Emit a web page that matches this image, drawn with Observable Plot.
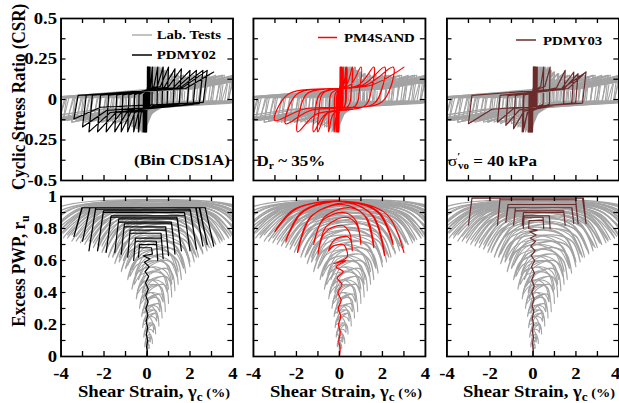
<!DOCTYPE html>
<html><head><meta charset="utf-8">
<script src="https://cdn.jsdelivr.net/npm/d3@7"></script>
<script src="https://cdn.jsdelivr.net/npm/@observablehq/plot@0.6"></script>
<style>
html,body{margin:0;padding:0;background:#fff;}
#wrap{position:relative;width:563px;height:403px;transform:scale(1.0995,1);transform-origin:0 0;overflow:visible;}
</style></head><body><div id="wrap"></div>
<script>
// ---------- data ----------
// Lab test A (gray): half-cycle peak strains (%), CSR at peaks, ru at peaks, ru plateau of each half-cycle
const labStrain=[0.25,-0.04,0.4,-0.06,0.55,-0.08,0.7,-0.1,0.85,-0.13,1.0,-0.17,1.15,-0.22,1.3,-0.3,1.45,-0.4,1.6,-0.55,1.8,-0.7,2.0,-0.9,2.2,-1.1,2.4,-1.3,2.6,-1.5,2.8,-1.7,3.0,-1.9,3.2,-2.1,3.4,-2.3,3.6,-2.5,3.8,-2.7,4.0,-2.9,4.2,-3.1,4.4,-3.3,4.6,-3.5,4.8,-3.7,5.0,-3.9,5.2,-4.1,5.4,-4.3,5.6,-4.5];
const labCsr=[0.2,-0.2,0.2,-0.2,0.2,-0.2,0.2,-0.2,0.18,-0.2,0.17,-0.19,0.16,-0.18,0.15,-0.17,0.15,-0.16,0.15,-0.15,0.14,-0.15,0.15,-0.14,0.14,-0.14,0.15,-0.13,0.14,-0.14,0.15,-0.13,0.14,-0.13,0.15,-0.14,0.14,-0.13,0.15,-0.13,0.14,-0.14,0.15,-0.13,0.14,-0.13,0.15,-0.13,0.14,-0.14,0.15,-0.13,0.14,-0.13,0.15,-0.13,0.14,-0.13,0.15,-0.13];
const labRu=[0.08,0.1,0.14,0.16,0.19,0.22,0.24,0.27,0.28,0.31,0.33,0.36,0.37,0.4,0.41,0.44,0.45,0.48,0.48,0.51,0.52,0.54,0.56,0.57,0.59,0.6,0.62,0.62,0.64,0.64,0.66,0.66,0.68,0.67,0.7,0.69,0.71,0.7,0.73,0.71,0.74,0.72,0.75,0.73,0.76,0.74,0.77,0.75,0.78,0.76,0.79,0.76,0.8,0.77,0.8,0.78,0.81,0.78,0.82,0.79];
const labRuTop=[0.12,0.12,0.2,0.2,0.27,0.27,0.33,0.33,0.39,0.39,0.45,0.45,0.5,0.5,0.55,0.55,0.6,0.6,0.64,0.64,0.68,0.68,0.72,0.72,0.76,0.76,0.8,0.8,0.83,0.83,0.86,0.86,0.88,0.88,0.9,0.9,0.91,0.91,0.92,0.92,0.93,0.93,0.94,0.94,0.95,0.95,0.96,0.96,0.96,0.96,0.97,0.97,0.97,0.97,0.98,0.98,0.98,0.98,0.98,0.98];
// Lab test B (gray)
const labBStrain=[-0.1,0.15,-0.15,0.3,-0.2,0.45,-0.25,0.6,-0.35,0.75,-0.5,0.95,-0.7,1.15,-0.9,1.4,-1.2,1.7,-1.5,2.0,-1.8,2.3,-2.1,2.6,-2.5,2.9,-2.9,3.2,-3.3,3.5,-3.7,3.8,-4.1,4.1,-4.5,4.4,-4.9,4.7,-5.3,5.0,-5.7,5.3];
const labBCsr=[-0.2,0.2,-0.2,0.2,-0.2,0.2,-0.2,0.2,-0.2,0.2,-0.18,0.17,-0.17,0.16,-0.16,0.16,-0.15,0.15,-0.15,0.14,-0.14,0.15,-0.14,0.14,-0.13,0.15,-0.14,0.14,-0.13,0.15,-0.12,0.14,-0.13,0.15,-0.12,0.14,-0.13,0.15,-0.12,0.14,-0.13,0.15];
const labBRu=[0.06,0.09,0.12,0.15,0.18,0.22,0.25,0.28,0.3,0.34,0.36,0.4,0.42,0.45,0.48,0.5,0.53,0.55,0.58,0.59,0.62,0.62,0.65,0.65,0.68,0.68,0.7,0.7,0.72,0.72,0.74,0.74,0.75,0.75,0.77,0.76,0.78,0.77,0.79,0.78,0.8,0.8];
const labBRuTop=[0.1,0.1,0.17,0.17,0.25,0.25,0.32,0.32,0.4,0.4,0.48,0.48,0.56,0.56,0.63,0.63,0.7,0.7,0.76,0.76,0.81,0.81,0.85,0.85,0.88,0.88,0.9,0.9,0.92,0.92,0.94,0.94,0.95,0.95,0.96,0.96,0.97,0.97,0.97,0.97,0.98,0.98];
// Lab test C (gray)
const labCStrain=[0.1,-0.05,0.2,-0.1,0.35,-0.15,0.5,-0.2,0.65,-0.3,0.8,-0.45,1.0,-0.6,1.2,-0.8,1.45,-1.0,1.7,-1.3,1.95,-1.6,2.2,-1.95,2.5,-2.3,2.8,-2.7,3.1,-3.1,3.5,-3.5,3.9,-3.9,4.3,-4.3,4.7,-4.7,5.1,-5.1];
const labCCsr=[0.2,-0.2,0.2,-0.2,0.2,-0.2,0.2,-0.2,0.19,-0.19,0.18,-0.18,0.17,-0.17,0.16,-0.16,0.15,-0.15,0.15,-0.14,0.14,-0.14,0.15,-0.13,0.14,-0.14,0.15,-0.13,0.14,-0.13,0.15,-0.14,0.14,-0.13,0.15,-0.13,0.14,-0.13,0.15,-0.13];
const labCRu=[0.05,0.08,0.11,0.14,0.17,0.2,0.24,0.27,0.3,0.33,0.36,0.39,0.42,0.45,0.48,0.5,0.53,0.55,0.57,0.59,0.61,0.62,0.64,0.65,0.67,0.67,0.69,0.69,0.71,0.71,0.73,0.72,0.75,0.74,0.76,0.75,0.78,0.76,0.79,0.77];
const labCRuTop=[0.08,0.08,0.14,0.14,0.21,0.21,0.29,0.29,0.37,0.37,0.45,0.45,0.53,0.53,0.6,0.6,0.67,0.67,0.73,0.73,0.79,0.79,0.84,0.84,0.87,0.87,0.9,0.9,0.92,0.92,0.94,0.94,0.95,0.95,0.96,0.96,0.97,0.97,0.98,0.98];

// PDMY02 (black)
const p2Strain=[0.02,-0.02,0.03,-0.03,0.03,-0.04,0.04,-0.05,0.05,-0.06,0.06,-0.07,0.08,-0.09,0.1,-0.12,0.14,-0.18,0.25,-0.4,0.5,-0.62,0.75,-0.9,1.0,-1.2,1.3,-1.5,1.6,-1.9,2.0,-2.3,2.3,-2.7,2.6,-3.0,2.8,-3.4,3.1];
const p2Csr=[0.2,-0.2,0.2,-0.2,0.2,-0.2,0.2,-0.2,0.2,-0.2,0.2,-0.2,0.2,-0.2,0.2,-0.2,0.2,-0.2,0.2,-0.2,0.2,-0.2,0.2,-0.2,0.2,-0.2,0.19,-0.2,0.19,-0.2,0.18,-0.2,0.18,-0.2,0.18,-0.17,0.18,-0.12,0.17];
const p2Ru=[0.03,0.06,0.1,0.14,0.18,0.22,0.26,0.3,0.34,0.38,0.42,0.46,0.5,0.53,0.56,0.59,0.61,0.63,0.64,0.62,0.6,0.6,0.61,0.62,0.63,0.64,0.64,0.65,0.66,0.65,0.66,0.66,0.67,0.66,0.69,0.72,0.7,0.75,0.69];
const p2RuTop=[0,0,0,0,0,0,0,0,0,0,0,0,0,0,0,0,0,0,0,0.68,0.7,0.72,0.74,0.77,0.79,0.81,0.83,0.84,0.86,0.87,0.88,0.9,0.91,0.92,0.93,0.93,0.93,0.93,0.93];

// PM4SAND (red)
const p4Strain=[0.03,-0.03,0.04,-0.04,0.06,-0.05,0.08,-0.07,0.12,-0.1,0.18,-0.15,0.3,-0.25,0.35,-0.5,0.6,-1.0,1.0,-1.2,1.6,-1.95,2.1,-2.5,2.5,-3.0,3.0];
const p4Csr=[0.2,-0.2,0.2,-0.2,0.2,-0.2,0.2,-0.2,0.2,-0.2,0.2,-0.2,0.2,-0.2,0.2,-0.2,0.2,-0.2,0.2,-0.2,0.2,-0.2,0.2,-0.15,0.2,-0.13,0.2];
const p4Ru=[0.05,0.1,0.15,0.2,0.25,0.3,0.35,0.4,0.45,0.49,0.53,0.56,0.6,0.58,0.62,0.66,0.66,0.64,0.7,0.7,0.68,0.65,0.63,0.72,0.7,0.78,0.65];
const p4RuTop=[0,0,0,0,0,0,0,0,0,0,0,0,0,0,0,0.7,0.75,0.82,0.87,0.9,0.93,0.95,0.96,0.97,0.97,0.97,0.97];

// PDMY03 (brown)
const p3Strain=[0.02,-0.02,0.03,-0.03,0.03,-0.03,0.04,-0.04,0.05,-0.05,0.06,-0.06,0.07,-0.07,0.08,-0.08,0.1,-0.1,0.12,-0.12,0.15,-0.15,0.2,-0.2,0.5,-0.45,0.8,-0.5,1.5,-0.9,1.9,-1.26,2.1,-1.65,2.47,-3.0,2.47];
const p3Csr=[0.2,-0.2,0.2,-0.2,0.2,-0.2,0.2,-0.2,0.2,-0.2,0.2,-0.2,0.2,-0.2,0.2,-0.2,0.2,-0.2,0.2,-0.2,0.2,-0.2,0.2,-0.2,0.2,-0.2,0.2,-0.2,0.18,-0.18,0.17,-0.16,0.16,-0.14,0.17,-0.15,0.17];
const p3Ru=[0.04,0.08,0.12,0.16,0.2,0.24,0.28,0.32,0.36,0.4,0.44,0.48,0.52,0.56,0.6,0.63,0.66,0.69,0.72,0.74,0.76,0.78,0.79,0.8,0.8,0.8,0.8,0.82,0.82,0.82,0.83,0.84,0.83,0.82,0.83,0.82,0.83];
const p3RuTop=[0,0,0,0,0,0,0,0,0,0,0,0,0,0,0,0,0,0,0,0,0,0,0,0,0.85,0.87,0.88,0.88,0.9,0.91,0.93,0.93,0.95,0.98,0.99,0.99,0.99];

// axes / legend text
const xMinor=[-3,-2,-1,0,1,2,3];
const xLabels=[-4,-2,0,2,4];
const csrMinor=[-0.375,-0.25,-0.125,0,0.125,0.25,0.375];
const csrLabels=[-0.5,-0.25,0,0.25,0.5];
const ruMinor=[0.1,0.2,0.3,0.4,0.5,0.6,0.7,0.8,0.9];
const ruLabels=[0,0.2,0.4,0.6,0.8,1];
const legendNames=["Lab. Tests","PDMY02","PM4SAND","PDMY03"];
const colors={lab:"#a3a3a3",p2:"#000000",p4:"#ff0000",p3:"#6b2b2b"};

// ---------- path construction between read peaks ----------
function pathStress(xs,ys,a,b,c,e){
  const out=[{x:0,y:0}];let x0=0;
  xs.forEach((x1,i)=>{const y1=ys[i],d=x1-x0;
    out.push({x:x0+a*d,y:b*y1},{x:x1-c*d,y:e*y1},{x:x1,y:y1});x0=x1;});
  return out;
}
function pathStressRound(xs,ys){
  const out=[{x:0,y:0}];let x0=0,y0=0;
  xs.forEach((x1,i)=>{const y1=ys[i],d=x1-x0;
    out.push({x:x0+0.03*d,y:0.3*y0},{x:x0+0.12*d,y:0.2*y1},{x:x1-0.25*d,y:0.45*y1},{x:x1,y:y1});x0=x1;y0=y1;});
  return out;
}
function pathRuFlat(xs,rs,tops,k){
  const out=[{x:0,y:0}];let x0=0,r0=0;
  xs.forEach((x1,i)=>{const r1=rs[i],T=tops[i],d=x1-x0;
    if(T>Math.max(r0,r1)) out.push({x:x0+k*d,y:T},{x:x1-k*d,y:T});
    out.push({x:x1,y:r1});x0=x1;r0=r1;});
  return out;
}
function pathRuDome(xs,rs,tops,shift){
  const out=[{x:0,y:0}];let x0=0,r0=0;
  xs.forEach((x1,i)=>{const r1=rs[i],T=tops[i],d=x1-x0;
    if(T>Math.max(r0,r1)){
      let xc=(x0+x1)/2+shift;
      const lo=Math.min(x0,x1)+0.2*Math.abs(d),hi=Math.max(x0,x1)-0.2*Math.abs(d);
      xc=Math.max(lo,Math.min(hi,xc));
      out.push({x:x0+0.3*(xc-x0),y:r0+0.75*(T-r0)},{x:xc,y:T},{x:x1+0.3*(xc-x1),y:r1+0.75*(T-r1)});
    }
    out.push({x:x1,y:r1});x0=x1;r0=r1;});
  return out;
}

const labStress=[
  pathStress(labStrain,labCsr,0.03,0.1,0.35,0.45),
  pathStress(labBStrain,labBCsr,0.04,0.05,0.3,0.5),
  pathStress(labCStrain,labCCsr,0.02,0.08,0.4,0.5)
];
const labPwp=[
  pathRuDome(labStrain,labRu,labRuTop,0.4),
  pathRuDome(labBStrain,labBRu,labBRuTop,0.0),
  pathRuDome(labCStrain,labCRu,labCRuTop,0.2)
];
const series=[
  {stress:pathStress(p2Strain,p2Csr,0.03,0.15,0.2,0.4),pwp:pathRuFlat(p2Strain,p2Ru,p2RuTop,0.06),color:colors.p2,curve:"linear"},
  {stress:pathStressRound(p4Strain,p4Csr),pwp:pathRuDome(p4Strain,p4Ru,p4RuTop,0.3),color:colors.p4,curve:"catmull-rom"},
  {stress:pathStress(p3Strain,p3Csr,0.03,0.15,0.2,0.4),pwp:pathRuFlat(p3Strain,p3Ru,p3RuTop,0.03),color:colors.p3,curve:"linear"}
];

// ---------- layout ----------
const S=1.0995;
const colLeft=[61/S,253/S,446/S],W=172/S;
const rowTop=[18,196],rowH=[162,160];
const mL=46,mR=8,mT=6,mB=34;
const wrap=document.getElementById("wrap");
const FONT="'Liberation Serif','Times New Roman',Times,serif";

function panel(ci,ri){
  const H=rowH[ri];
  const s=series[ci];
  const top=ri===0;
  const marks=[];
  for(const g of (top?labStress:labPwp)) marks.push(Plot.line(g,{x:"x",y:"y",stroke:colors.lab,strokeWidth:1,curve:top?"linear":"catmull-rom",clip:true}));
  marks.push(
    Plot.line(top?s.stress:s.pwp,{x:"x",y:"y",stroke:s.color,strokeWidth:1.1,curve:s.curve,clip:true}),
    Plot.tickX(xMinor,{x:d=>d,insetTop:H-5,stroke:"black",strokeWidth:1.2}),
    Plot.tickX(xMinor,{x:d=>d,insetBottom:H-5,stroke:"black",strokeWidth:1.2}),
    Plot.tickY(top?csrMinor:ruMinor,{y:d=>d,insetRight:W-4.6,stroke:"black",strokeWidth:1.2}),
    Plot.tickY(top?csrMinor:ruMinor,{y:d=>d,insetLeft:W-4.6,stroke:"black",strokeWidth:1.2}),
    Plot.frame({stroke:"black",strokeWidth:1.7})
  );
  if(ci===0) marks.push(Plot.axisY({ticks:top?csrLabels:ruLabels,tickSize:0,tickPadding:3.6,tickFormat:d=>String(d),label:null,fontSize:17}));
  if(!top){
    const inner=ci===2?xLabels.slice(0,-1):xLabels;
    marks.push(Plot.axisX({ticks:inner,tickSize:0,tickPadding:10,tickFormat:d=>String(d),label:null,fontSize:17}));
    if(ci===2) marks.push(Plot.axisX({ticks:xLabels.slice(-1),tickSize:0,tickPadding:10,tickFormat:d=>String(d),label:null,fontSize:17,dx:-3}));
  }
  const svg=Plot.plot({
    width:mL+W+mR,height:mT+H+mB,marginLeft:mL,marginRight:mR,marginTop:mT,marginBottom:mB,
    x:{domain:[-4,4],axis:(!top)?undefined:null},
    y:{domain:top?[-0.5,0.5]:[0,1],axis:ci===0?undefined:null},
    style:{background:"transparent",overflow:"visible",fontFamily:FONT,fontWeight:"bold",fontSize:"17px"},
    marks
  });
  svg.style.position="absolute";
  svg.style.left=(colLeft[ci]-mL)+"px";
  svg.style.top=(rowTop[ri]-mT)+"px";
  svg.style.maxWidth="none";
  svg.style.background="transparent";
  wrap.appendChild(svg);
}
for(let r=0;r<2;r++)for(let c=0;c<3;c++)panel(c,r);

// ---------- text overlay ----------
const ov=d3.select(wrap).append("svg").attr("width",563).attr("height",403)
  .style("position","absolute").style("left","0px").style("top","0px").style("overflow","visible")
  .attr("font-family",FONT).attr("font-weight","bold");
function txt(x,y,size,anchor){return ov.append("text").attr("x",x).attr("y",y).attr("font-size",size).attr("text-anchor",anchor||"start");}
// y titles
txt(0,0,17,"middle").attr("transform",`translate(${25/S},97) rotate(-90)`).text("Cyclic Stress Ratio (CSR)");
{const t=txt(0,0,17,"middle").attr("transform",`translate(${25/S},271) rotate(-90)`);
 t.append("tspan").text("Excess PWP, r");t.append("tspan").attr("font-size",12).attr("dy",4).text("u");}
// x titles
for(let c=0;c<3;c++){
  const cx=(colLeft[c]*S+86+7)/S;
  const t=txt(cx,397,17,"middle");
  t.append("tspan").text("Shear Strain, γ");
  t.append("tspan").attr("font-size",12).attr("dy",4).text("c");
  t.append("tspan").attr("font-size",13).attr("dy",-4).text(" (%)");
}
// legends
function leg(x1,x2,y,color,w){ov.append("line").attr("x1",x1/S).attr("x2",x2/S).attr("y1",y).attr("y2",y).attr("stroke",color).attr("stroke-width",w);}
leg(132,152,35,colors.lab,1.3); txt(156.7/S,39.5,13.5).text(legendNames[0]);
leg(132,152,55,colors.p2,1.5); txt(156.7/S,59.5,13.5).text(legendNames[1]);
leg(318,337,37.5,colors.p4,1.5); txt(344/S,42.5,13.5).text(legendNames[2]);
leg(516,536,40,colors.p3,1.5); txt(543/S,45,13.5).text(legendNames[3]);
// annotations
txt(230/S,165,15.5,"end").text("(Bin CDS1A)");
{const t=txt(256.5/S,166,15.5);t.append("tspan").text("D");t.append("tspan").attr("font-size",10.5).attr("dy",3.5).text("r");t.append("tspan").attr("dy",-3.5).text(" ~ 35%");}
{const t=txt(448/S,166,15.5);t.append("tspan").attr("font-weight","normal").text("σ");
 t.append("tspan").attr("font-size",10).attr("dy",-6).text("′");
 t.append("tspan").attr("font-size",10).attr("dx",-2).attr("dy",9).text("vo");
 t.append("tspan").attr("dy",-3).text(" = 40 kPa");}
</script></body></html>
